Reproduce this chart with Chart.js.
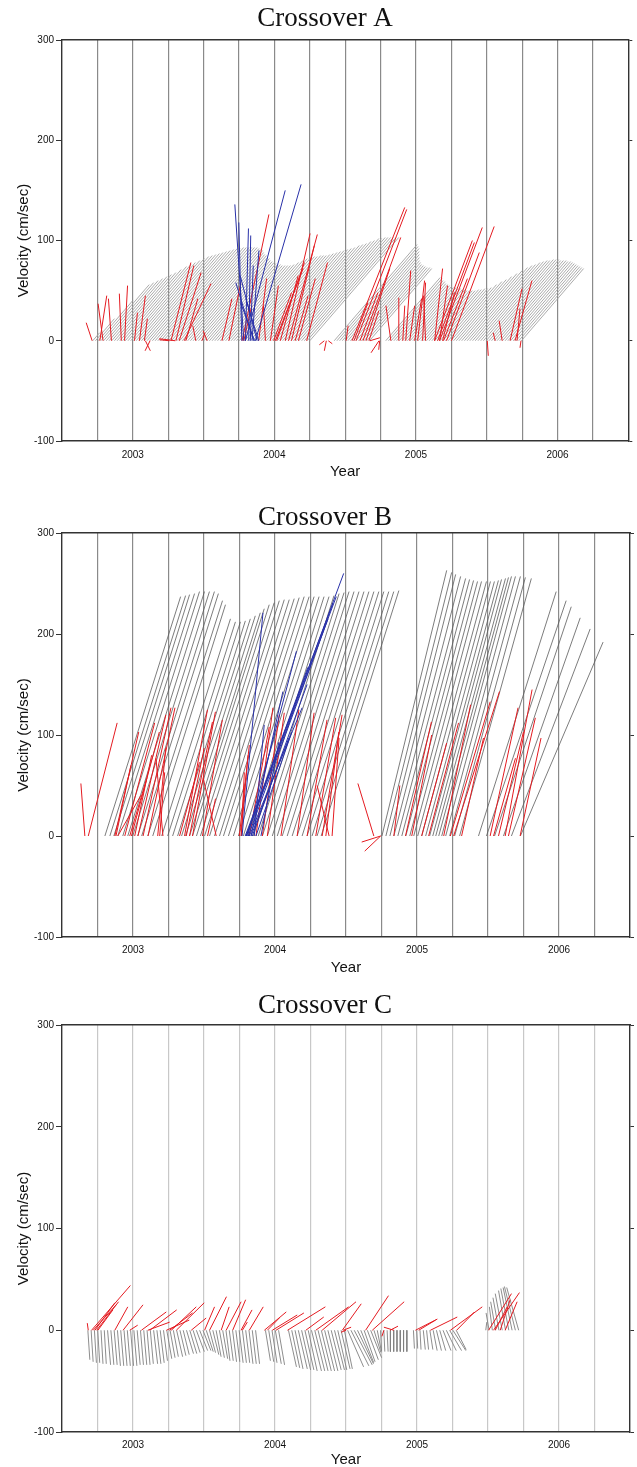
<!DOCTYPE html>
<html>
<head>
<meta charset="utf-8">
<script src="https://cdn.jsdelivr.net/npm/chart.js@4.4.0/dist/chart.umd.min.js"></script>
<style>
  html, body { margin: 0; padding: 0; background: #fff; }
  .panel { position: relative; width: 637px; height: 489px; }
</style>
</head>
<body>
<div class="panel"><canvas id="chartA"></canvas></div>
<div class="panel"><canvas id="chartB"></canvas></div>
<div class="panel"><canvas id="chartC"></canvas></div>
<script>
// Axis ranges and tick labels
const yearMin = 2002.5;
const yearMax = 2006.5;
const velMin = -100;
const velMax = 300;
const yearLabels = [2003, 2004, 2005, 2006];

// one cm/s of east velocity is drawn as long as one cm/s of north velocity
const YEARS_PER_CMS = 1 / 142.5;

// ---- Crossover A ----
// gray: weekly record, every stick points the same way
const grayAStart = 2002.717;
const grayAStep = 7 / 365.25;
const grayADirection = 41; // degrees east of north
const grayAV = [
  8, 22, 40, 56, 58, 60, 62, 64, 66, 68,
  71, 74, 76, 78, 80, 82, 84, 85, 86, 87,
  88, 89, 90, 91, 92, 92, 93, 93, 93, 93,
  93, 93, 92, 91, 90, 88, 86, 85, 83, 82,
  80, 79, 78, 77, 76, 76, 75, 75, 75, 75,
  76, 78, 80, 82, 83, 84, 84, 85, 85, 85,
  86, 87, 88, 89, 90, 91, 92, 93, 95, 96,
  97, 99, 100, 102, 102, 103, 103, 103, 103, 103,
  103, null, null, null, null, null, null, null, null, 96,
  94, 92, 89, 86, 83, 80, 78, 76, 75, 74,
  73, 73, 72, null, null, null, null, null, 63, 62,
  60, 59, 57, 56, 55, 54, 53, 53, 52, 52,
  51, 51, 50, 50, 50, 50, 51, 51, 52, 52,
  53, 56, 59, 61, 64, 67, 70, 73, 75, 76,
  78, 79, 80, 80, 81, 81, 81, 80, 80, 80,
  79, 79, 78, 77, 76, 75, 74, 73, 72
];
// red and blue: [year, east cm/s, north cm/s]
const redA = [
  [2002.713, -6, 18], [2002.790, -5, 37], [2002.767, 7, 45], [2002.849, -3, 42], [2002.919, -2, 47], [2002.942, 3, 55],
  [2003.012, 3, 28], [2003.047, 6, 45], [2003.082, 3, 22], [2003.089, 5, -10], [2003.122, -5, -10],
  [2003.300, -16, 2], [2003.258, -10, 1], [2003.270, 20, 78], [2003.305, 18, 75], [2003.328, 22, 68], [2003.363, 27, 57], [2003.375, 12, 42],
  [2003.445, -3, 15], [2003.489, 3, 8], [2003.525, -4, 10], [2003.630, 10, 42], [2003.679, 12, 58],
  [2003.772, 27, 126], [2003.784, 8, 35], [2003.889, 8, 62], [2003.937, -2, 35],
  [2004.077, 25, 107], [2004.100, 29, 106], [2004.121, 23, 95], [2004.016, 28, 78], [2004.007, 28, 72], [2004.042, 18, 65], [2003.995, 18, 48],
  [2004.228, 21, 78], [2004.170, 17, 62], [2003.972, 8, 55], [2004.147, 13, 45],
  [2004.353, -5, -4], [2004.367, -2, -10], [2004.381, 4, -3],
  [2004.507, 2, 15], [2004.549, 53, 133], [2004.577, 51, 131], [2004.626, 38, 103], [2004.647, 24, 72], [2004.605, 18, 48], [2004.563, 14, 38], [2004.668, 10, 30],
  [2004.675, 10, 3], [2004.739, -8, -12], [2004.744, -1, -9],
  [2004.823, -5, 35], [2004.879, 0, 43], [2004.928, 5, 70], [2004.907, 2, 35], [2004.956, 5, 35],
  [2005.012, 7, 60], [2005.047, 3, 58], [2005.068, -2, 45], [2004.991, 7, 42],
  [2005.132, 8, 72], [2005.167, 8, 55], [2005.188, 12, 48],
  [2005.132, 38, 100], [2005.153, 37, 98], [2005.167, 43, 113], [2005.251, 43, 114], [2005.216, 33, 88], [2005.195, 24, 62],
  [2005.504, 1, -15], [2005.609, -3, 20], [2005.560, -2, 8],
  [2005.665, 12, 52], [2005.700, 17, 60], [2005.742, -1, -7], [2005.714, 3, 32]
];
const blueA = [
  [2003.784, -9, 136], [2003.770, -3, 118], [2003.796, 3, 112], [2003.819, 2, 105], [2003.854, -18, 58], [2003.878, -17, 65],
  [2003.842, 7, 90], [2003.830, 3, 75], [2003.796, 40, 150], [2003.866, 46, 156], [2003.889, -13, 42], [2003.860, -14, 38]
];

// ---- Crossover B ----
const grayB = [
  [2002.802, 76, 237], [2002.837, 76, 238], [2002.865, 76, 239], [2002.893, 77, 240], [2002.928, 77, 242], [2002.963, 77, 242],
  [2002.998, 77, 242], [2003.033, 77, 242], [2003.061, 77, 240], [2003.104, 75, 233], [2003.139, 73, 229],
  [2003.202, 69, 215], [2003.244, 68, 212], [2003.279, 68, 212], [2003.314, 68, 213], [2003.342, 69, 215], [2003.370, 70, 218],
  [2003.398, 71, 221], [2003.419, 72, 225], [2003.447, 73, 229], [2003.475, 74, 231], [2003.504, 75, 233], [2003.539, 75, 234],
  [2003.574, 75, 234], [2003.609, 75, 235], [2003.637, 76, 236], [2003.672, 76, 237], [2003.707, 76, 237], [2003.742, 76, 237],
  [2003.777, 76, 237], [2003.812, 76, 237], [2003.847, 76, 237], [2003.882, 76, 238], [2003.911, 77, 240], [2003.946, 77, 241],
  [2003.981, 77, 242], [2004.016, 77, 242], [2004.051, 77, 242], [2004.086, 77, 242], [2004.121, 77, 242], [2004.156, 77, 242],
  [2004.191, 77, 242], [2004.226, 77, 242], [2004.261, 77, 242], [2004.296, 77, 242], [2004.325, 78, 243],
  [2004.753, 65, 263], [2004.781, 66, 261], [2004.809, 66, 259], [2004.837, 67, 257], [2004.865, 68, 255], [2004.893, 68, 254],
  [2004.921, 68, 253], [2004.949, 68, 252], [2004.977, 68, 252], [2005.005, 69, 252], [2005.033, 69, 252], [2005.061, 69, 252],
  [2005.089, 69, 253], [2005.111, 69, 254], [2005.132, 70, 255], [2005.153, 70, 256], [2005.174, 70, 257], [2005.202, 70, 257],
  [2005.230, 71, 257], [2005.265, 71, 256], [2005.300, 72, 255],
  [2005.433, 78, 242], [2005.489, 80, 233], [2005.546, 77, 227], [2005.609, 77, 216], [2005.665, 79, 205], [2005.728, 83, 192]
];
const redB = [
  [2002.661, -4, 52], [2002.685, 29, 112], [2002.872, 24, 103], [2002.942, 30, 112], [2002.989, 28, 103], [2003.035, 28, 120],
  [2003.071, 28, 127], [2003.106, 27, 127], [2003.012, 17, 80], [2003.211, -7, 77], [2003.188, 5, 63], [2002.977, 17, 57],
  [2002.880, 15, 70], [2002.893, 23, 40], [2003.174, 8, 87],
  [2003.363, 23, 125], [2003.419, 23, 123], [2003.398, 23, 113], [2003.489, 20, 115], [2003.375, 18, 87], [2003.328, 20, 73],
  [2003.586, -13, 57], [2003.525, 8, 37],
  [2003.749, 10, 90], [2003.763, 3, 63], [2003.761, 7, 80], [2003.819, 20, 108], [2003.866, 17, 127], [2003.911, 17, 120],
  [2003.946, 17, 122], [2004.042, 18, 125], [2004.156, 17, 122], [2004.226, 20, 115], [2004.287, 20, 117], [2004.332, 20, 120],
  [2004.358, 13, 103], [2004.381, -12, 50], [2004.402, 7, 97],
  [2004.696, -16, 52], [2004.744, -19, -6], [2004.744, -16, -15],
  [2004.837, 6, 50], [2004.919, 26, 113], [2004.963, 20, 100], [2005.033, 25, 92], [2005.082, 30, 112], [2005.188, 27, 130],
  [2005.235, 40, 133], [2005.258, 46, 143], [2005.314, 22, 97],
  [2005.515, 28, 127], [2005.621, 27, 145], [2005.644, 27, 117], [2005.726, 21, 97], [2005.574, 25, 103], [2005.539, 22, 77]
];
const blueB = [
  [2003.768, 21, 221], [2003.796, 98, 260], [2003.800, 90, 237], [2003.790, 88, 230], [2003.812, 80, 215], [2003.796, 62, 167],
  [2003.807, 49, 183], [2003.819, 53, 127], [2003.840, 55, 150], [2003.831, 32, 143], [2003.831, 38, 97], [2003.854, 10, 110],
  [2003.901, 18, 93], [2003.866, 36, 103]
];

// ---- Crossover C ----
// gray: regular record (about 8.5 days), east and north parts per stick
const grayCStart = 2002.682;
const grayCStep = 0.02316;
const grayCU = [
  2, 2, 2, 2, 2, 2, 3, 3, 3, 3,
  3, 3, 3, 3, 3, 3, 3, 3, 3, 3,
  4, 4, 4, 4, 5, 5, 5, 6, 6, 6,
  7, 7, 7, 8, 8, 8, 7, 6, 6, 5,
  5, 5, 4, 4, 4, 4, 4, 4, 4, 4,
  4, 4, null, null, 5, 5, 5, 6, 6, null,
  null, 8, 8, 8, 9, 9, 9, 9, 10, 10,
  10, 10, 10, 10, 10, 10, 9, 9, 8, 16,
  18, 18, 16, 13, 11, 11, 11, 7, 4, 1,
  1, 1, 0, 0, 0, 0, 0, 0, null, 1,
  1, 1, 2, 2, 3, 4, 5, 6, 8, 10,
  12, 13, 10, null, null, null, null, null, null, null,
  null, 1, -3, -3, -5, -6, -7, -7, -8, -9, -11, -12
];
const grayCV = [
  -29, -31, -32, -32, -33, -33, -34, -34, -34, -35,
  -35, -35, -35, -35, -35, -34, -34, -34, -34, -33,
  -33, -33, -32, -30, -28, -27, -26, -26, -25, -24,
  -23, -23, -22, -21, -20, -20, -21, -22, -24, -26,
  -27, -28, -30, -30, -31, -31, -32, -32, -32, -33,
  -33, -33, null, null, -30, -31, -32, -33, -34, null,
  null, -36, -37, -38, -38, -39, -39, -40, -40, -40,
  -40, -40, -40, -40, -39, -39, -39, -38, -38, -36,
  -35, -34, -33, -32, -31, -29, -27, -22, -20, -21,
  -21, -21, -21, -21, -21, -21, -21, -21, null, -18,
  -18, -19, -19, -19, -19, -20, -20, -20, -20, -20,
  -20, -20, -19, null, null, null, null, null, null, null,
  null, 8, 17, 23, 28, 32, 36, 39, 41, 42, 43, 42
];
const redC = [
  [2002.685, -1, 7], [2002.708, 39, 44], [2002.720, 23, 25], [2002.732, 20, 27], [2002.744, 22, 28], [2002.753, 15, 20],
  [2002.872, 13, 23], [2002.930, 20, 25], [2002.977, 8, 5], [2003.059, 25, 18], [2003.118, 27, 20], [2003.104, 22, 8],
  [2003.270, 25, 23], [2003.305, 28, 27], [2003.258, 23, 17], [2003.235, 23, 10], [2003.410, 15, 12],
  [2003.504, 10, 23], [2003.539, 17, 33], [2003.621, 8, 23], [2003.656, 15, 28], [2003.702, 13, 30], [2003.761, 11, 20],
  [2003.770, 5, 8], [2003.819, 14, 23], [2003.925, 22, 18], [2003.946, 12, 12], [2004.007, 28, 17], [2003.981, 25, 15],
  [2004.088, 38, 23], [2004.217, 18, 13], [2004.287, 33, 23], [2004.332, 34, 28], [2004.474, 19, 26],
  [2004.480, 8, 3], [2004.500, -5, -2], [2004.638, 23, 34], [2004.685, 32, 28], [2004.767, -2, -6],
  [2004.837, -10, 3], [2004.810, 8, 4],
  [2004.989, 22, 11], [2005.012, 17, 10], [2005.094, 27, 13], [2005.235, 32, 23], [2005.279, 18, 18],
  [2005.504, 23, 36], [2005.539, 26, 37], [2005.586, 10, 30], [2005.621, 12, 28], [2005.551, 12, 23]
];

// Turn sticks into line pieces: base on the zero line, tip at (t + u, v)
function sticksFromList(list) {
  const pts = [];
  list.forEach(([t, u, v]) => {
    pts.push({x: t, y: 0}, {x: t + u * YEARS_PER_CMS, y: v}, {x: t, y: null});
  });
  return pts;
}

function sticksFromSeries(start, step, us, vs) {
  const pts = [];
  vs.forEach((v, i) => {
    if (v === null) return;
    const t = start + i * step;
    pts.push({x: t, y: 0}, {x: t + us[i] * YEARS_PER_CMS, y: v}, {x: t, y: null});
  });
  return pts;
}

const grayAU = grayAV.map(v => v === null ? null : v * Math.tan(grayADirection * Math.PI / 180));

const RED = 'rgb(228, 26, 32)';
const BLUE = 'rgb(40, 48, 168)';

function stickSet(points, color, width) {
  return {
    data: points,
    borderColor: color,
    borderWidth: width,
    pointRadius: 0,
    pointHoverRadius: 0,
    tension: 0,
    spanGaps: false,
    xAxisID: 'x',
    yAxisID: 'y'
  };
}

const sans = "'Liberation Sans', Arial, Helvetica, sans-serif";
const AXIS = '#333';

function makeChart(id, panel, datasets) {
  const isYearTick = ctx => Math.abs(ctx.tick.value - Math.round(ctx.tick.value)) < 1e-6;
  const isEdge = ctx => ctx.tick.value <= yearMin + 1e-6 || ctx.tick.value >= yearMax - 1e-6;
  new Chart(document.getElementById(id), {
    type: 'line',
    data: { datasets },
    options: {
      animation: false,
      responsive: true,
      maintainAspectRatio: false,
      events: [],
      layout: { padding: { left: 13, top: panel.padTop, right: 0, bottom: 0 } },
      plugins: {
        legend: { display: false },
        tooltip: { enabled: false },
        title: {
          display: true,
          text: panel.title,
          color: '#111',
          font: { family: "'Liberation Serif', 'Times New Roman', serif", size: 27, weight: 'normal', lineHeight: 1 },
          padding: { top: 0, bottom: 0 }
        }
      },
      scales: {
        x: {
          type: 'linear',
          position: 'bottom',
          min: yearMin,
          max: yearMax,
          afterFit: s => { s.height = panel.bottomH; },
          ticks: {
            stepSize: 0.25,
            autoSkip: false,
            maxRotation: 0,
            padding: panel.labelPad,
            color: '#111',
            font: { family: sans, size: 10 },
            callback: v => yearLabels.includes(Math.round(v * 100) / 100) ? String(Math.round(v)) : ''
          },
          grid: {
            drawTicks: false,
            color: ctx => isEdge(ctx) ? 'rgba(0,0,0,0)' : panel.grid,
            lineWidth: 1.2
          },
          border: { color: AXIS, width: 1.4 },
          title: {
            display: true,
            text: 'Year',
            color: '#111',
            font: { family: sans, size: 15, lineHeight: 1 },
            padding: { top: 0, bottom: panel.yearPad }
          }
        },
        x2: {
          type: 'linear',
          position: 'top',
          min: yearMin,
          max: yearMax,
          afterFit: s => { s.height = panel.topH; },
          ticks: { display: false, stepSize: 1 },
          grid: {
            drawOnChartArea: false,
            tickLength: 4,
            tickColor: ctx => isYearTick(ctx) && !isEdge(ctx) ? AXIS : 'rgba(0,0,0,0)'
          },
          border: { color: AXIS, width: 1.4 }
        },
        y: {
          type: 'linear',
          position: 'left',
          min: velMin,
          max: velMax,
          afterFit: s => { s.width = 49; },
          ticks: { stepSize: 100, padding: 2, color: '#111', font: { family: sans, size: 10 } },
          grid: { drawOnChartArea: false, tickLength: 6, tickColor: AXIS },
          border: { color: AXIS, width: 1.4 },
          title: {
            display: true,
            text: 'Velocity (cm/sec)',
            color: '#111',
            font: { family: sans, size: 15, lineHeight: 1 },
            padding: { top: 3.5, bottom: 0 }
          }
        },
        y2: {
          type: 'linear',
          position: 'right',
          min: velMin,
          max: velMax,
          afterFit: s => { s.width = 5; },
          ticks: { display: false, stepSize: 100 },
          grid: { drawOnChartArea: false, tickLength: 4, tickColor: AXIS },
          border: { color: AXIS, width: 1.4 }
        }
      }
    }
  });
}

makeChart('chartA',
  { title: 'Crossover A', padTop: 5.4, topH: 7.6, bottomH: 48, labelPad: 8.7, yearPad: 9.8, grid: '#8a8a8a' },
  [
    stickSet(sticksFromList(blueA), BLUE, 1),
    stickSet(sticksFromList(redA), RED, 1),
    stickSet(sticksFromSeries(grayAStart, grayAStep, grayAU, grayAV), '#a2a2a2', 0.9)
  ]);

makeChart('chartB',
  { title: 'Crossover B', padTop: 15.1, topH: 1.9, bottomH: 41, labelPad: 7, yearPad: 2.5, grid: '#8a8a8a' },
  [
    stickSet(sticksFromList(blueB), BLUE, 1),
    stickSet(sticksFromList(redB), RED, 1),
    stickSet(sticksFromList(grayB), '#5a5a5a', 0.8)
  ]);

makeChart('chartC',
  { title: 'Crossover C', padTop: 14.4, topH: 5.6, bottomH: 35, labelPad: 7, yearPad: 0, grid: '#c8c8c8' },
  [
    stickSet(sticksFromList(redC), RED, 1),
    stickSet(sticksFromSeries(grayCStart, grayCStep, grayCU, grayCV), '#808080', 0.9)
  ]);
</script>
</body>
</html>
